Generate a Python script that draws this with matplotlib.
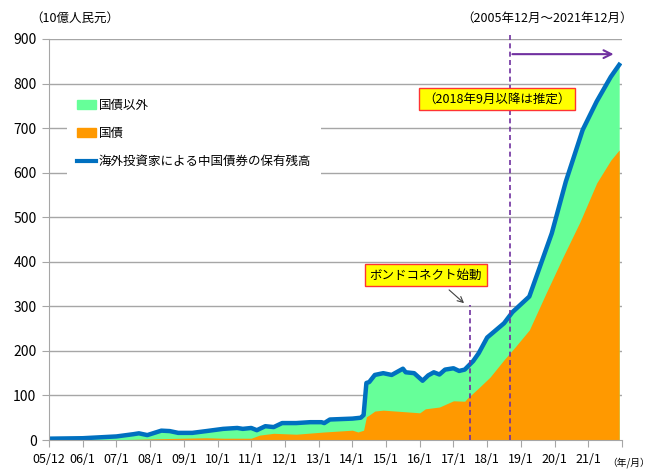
import numpy as np
import matplotlib
matplotlib.use("Agg")
import matplotlib.pyplot as plt
from matplotlib.patches import Patch
from matplotlib.lines import Line2D

plt.rcParams['font.family'] = ['Noto Sans CJK JP', 'DejaVu Sans']

# month offsets from the first axis tick (labelled 05/12); ticks every 12 months
total_m = [0, 12, 24, 30, 32, 35, 40, 43, 46, 51, 56, 62, 67, 69, 72, 74, 77, 80,
           83, 88, 93, 97, 98, 100, 108, 111, 112, 113, 114, 116, 119, 122, 126,
           127, 130, 133, 135, 137, 139, 141, 144, 146, 148, 151, 153, 156, 162,
           165, 171, 179, 184, 190, 195, 200, 203]
total_v = [3, 4, 8, 13, 15, 11, 21, 20, 16, 16, 20, 25, 27, 25, 27, 22, 31, 29,
           38, 38, 40, 40, 38, 46, 48, 50, 56, 128, 130, 146, 150, 146, 160,
           152, 150, 133, 145, 152, 147, 158, 161, 155, 158, 177, 195, 230, 262,
           287, 322, 464, 580, 696, 760, 815, 842]

gov_m = [0, 24, 27, 40, 56, 62, 72, 75, 80, 88, 98, 108, 110, 112, 113, 114,
         116, 119, 132, 134, 139, 144, 148, 149, 153, 157, 162, 166, 171, 177,
         183, 189, 195, 200, 203]
gov_v = [0, 0, 1, 3, 5, 4, 4, 11, 15, 13, 18, 22, 18, 22, 52, 56,
         65, 67, 61, 70, 74, 88, 87, 94, 117, 141, 180, 209, 247, 330,
         411, 489, 577, 628, 651]

tick_labels = ['05/12'] + ['%02d/1' % y for y in range(6, 22)] + ['']
bond_connect_m = 150    # 2017/7
estimate_m = 164        # 2018/9

GREEN = '#66FF99'
ORANGE = '#FF9900'
BLUE = '#0070C0'
PURPLE = '#7030A0'
GRID = '#A6A6A6'

fig = plt.figure(figsize=(6.52, 4.69), dpi=100)
ax = fig.add_axes([49 / 652, 1 - 440 / 469, 573 / 652, 401 / 469])

ax.fill_between(total_m, total_v, 0, color=GREEN, lw=0, zorder=2)
ax.fill_between(gov_m, gov_v, 0, color=ORANGE, lw=0, zorder=3)
ax.plot(total_m, total_v, color=BLUE, lw=3.2, solid_joinstyle='round', zorder=5)

ax.set_xlim(0, 204)
ax.set_ylim(0, 900)
ax.set_xticks(np.arange(0, 205, 12))
ax.set_xticklabels(tick_labels, fontsize=9)
ax.set_yticks(np.arange(0, 901, 100))
ax.tick_params(axis='y', labelsize=10, length=5, color=GRID, pad=4)
ax.tick_params(axis='x', length=5, color=GRID, pad=4)
for y in range(100, 901, 100):
    ax.axhline(y, color=GRID, lw=1, zorder=1)
for s in ['top', 'right']:
    ax.spines[s].set_visible(False)
for s in ['left', 'bottom']:
    ax.spines[s].set_color(GRID)
    ax.spines[s].set_zorder(6)

# dashed markers
ax.plot([bond_connect_m, bond_connect_m], [0, 303], ls='--', color=PURPLE,
        lw=1.2, dashes=(3, 2), zorder=7)
ax.plot([estimate_m, estimate_m], [0, 910], ls='--', color=PURPLE,
        lw=1.2, dashes=(3, 2), zorder=7, clip_on=False)
ax.annotate('', xy=(202, 866), xytext=(estimate_m, 866),
            arrowprops=dict(arrowstyle='->', color=PURPLE, lw=1.5,
                            mutation_scale=14), zorder=7)

box = dict(boxstyle='square,pad=0.35', fc='#FFFF00', ec='#FF3333', lw=1)
ax.text(134.2, 370, 'ボンドコネクト始動', ha='center', va='center',
        fontsize=9, bbox=box, zorder=8)
ax.annotate('', xy=(148.5, 303), xytext=(141.7, 341),
            arrowprops=dict(arrowstyle='->', color='#404040', lw=0.8), zorder=8)
ax.text(159.5, 765, '（2018年9月以降は推定）', ha='center', va='center',
        fontsize=9, bbox=box, zorder=8)

handles = [Patch(color=GREEN), Patch(color=ORANGE),
           Line2D([], [], color=BLUE, lw=3)]
labels = ['国債以外', '国債', '海外投資家による中国債券の保有残高']
leg = ax.legend(handles, labels, loc='upper left', bbox_to_anchor=(0.032, 0.875),
                frameon=True, fontsize=9, handlelength=1.5, handleheight=0.7,
                handletextpad=0.2, labelspacing=1.2, borderpad=0.8,
                borderaxespad=0)
leg.get_frame().set_facecolor('white')
leg.get_frame().set_edgecolor('none')
leg.get_frame().set_alpha(1)
leg.set_zorder(9)

fig.text(30 / 652, 1 - 18 / 469, '（10億人民元）', fontsize=9, va='center')
fig.text(633 / 652, 1 - 18 / 469, '（2005年12月～2021年12月）', fontsize=9,
         va='center', ha='right')
fig.text(650 / 652, 1 - 463 / 469, '（年/月）', fontsize=7, va='center', ha='right')

fig.savefig('out.png', dpi=100)
